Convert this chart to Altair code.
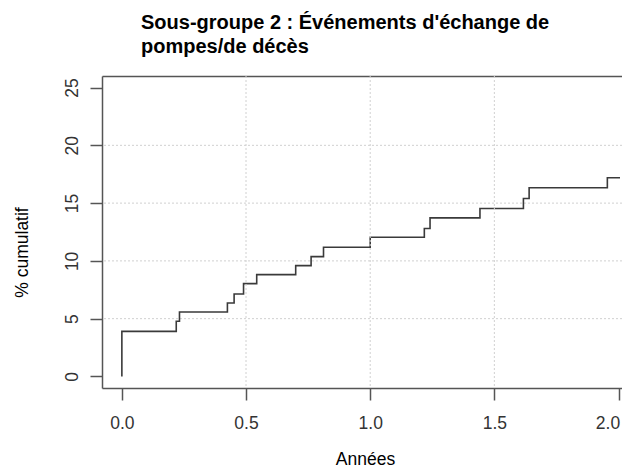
import altair as alt
import pandas as pd

# ---- data ----
title_lines = ["Sous-groupe 2 : Événements d'échange de", "pompes/de décès"]
x_title = "Années"
y_title = "% cumulatif"

times = [0.0, 0.0, 0.219, 0.232, 0.425, 0.452, 0.490, 0.543, 0.700, 0.762,
         0.812, 1.000, 1.218, 1.241, 1.442, 1.617, 1.640, 1.955, 2.006]
cum_pct = [0.0, 3.90, 4.77, 5.58, 6.36, 7.14, 8.03, 8.81, 9.59, 10.37,
           11.18, 12.05, 12.80, 13.72, 14.53, 15.40, 16.33, 17.19, 17.19]

x_ticks = [0.0, 0.5, 1.0, 1.5, 2.0]
y_ticks = [0, 5, 10, 15, 20, 25]
x_grid = [0.5, 1.0, 1.5]
y_grid = [5, 10, 15, 20]
x_domain = [-0.08, 2.014]
y_domain = [-1, 26]

FONT = "Liberation Sans"
FRAME = "#555555"

step_df = pd.DataFrame({"t": times, "pct": cum_pct, "i": list(range(len(times)))})
gx_df = pd.DataFrame({"t": x_grid})
gy_df = pd.DataFrame({"pct": y_grid})

xs = alt.Scale(domain=x_domain, nice=False, zero=False)
ys = alt.Scale(domain=y_domain, nice=False, zero=False)

x_axis = alt.Axis(
    orient="bottom",
    values=x_ticks, format=".1f", grid=False,
    domain=True, domainColor=FRAME, domainWidth=1.5,
    ticks=True, tickSize=12, tickColor=FRAME, tickWidth=1.5,
    labelFont=FONT, labelFontSize=17.5, labelColor="#333333",
    labelPadding=14, labelFlush=False, labelOverlap=False,
    labelOffset={"condition": {"test": "datum.value >= 2", "value": -11}, "value": 0},
    title=x_title, titleFont=FONT, titleFontSize=17.5, titleFontWeight="normal",
    titleColor="#000000", titleX=263, titleY=76, titleAlign="center",
    titleBaseline="alphabetic",
)
x_axis_top = alt.Axis(
    orient="top", grid=False, labels=False, ticks=False,
    domain=True, domainColor=FRAME, domainWidth=1.5, title=None,
)
y_axis = alt.Axis(
    values=y_ticks, format="d", grid=False,
    domain=True, domainColor=FRAME, domainWidth=1.5,
    ticks=True, tickSize=12, tickColor=FRAME, tickWidth=1.5,
    labelFont=FONT, labelFontSize=17.5, labelColor="#333333",
    labelAngle=270, labelAlign="center", labelBaseline="alphabetic",
    labelPadding=13, labelFlush=False, labelOverlap=False,
    title=y_title, titleFont=FONT, titleFontSize=17.5, titleFontWeight="normal",
    titleColor="#000000", titleAngle=270, titleX=-75, titleY=176,
    titleAlign="center", titleBaseline="alphabetic",
)

line = alt.Chart(step_df).mark_line(
    interpolate="step-after", color="#3a3a3a", strokeWidth=1.6
).encode(
    x=alt.X("t:Q", scale=xs, axis=x_axis),
    y=alt.Y("pct:Q", scale=ys, axis=y_axis),
    order=alt.Order("i:Q"),
)
grid_x = alt.Chart(gx_df).mark_rule(color="#d0d0d0", strokeDash=[2, 2], strokeWidth=1).encode(
    x=alt.X("t:Q", scale=xs, axis=x_axis_top)
)
grid_y = alt.Chart(gy_df).mark_rule(color="#d0d0d0", strokeDash=[2, 2], strokeWidth=1).encode(
    y=alt.Y("pct:Q", scale=ys, axis=y_axis)
)

chart = alt.layer(grid_y, line, grid_x).resolve_axis(x="independent").properties(
    width=520,
    height=312,
    autosize=alt.AutoSizeParams(type="none"),
    padding={"left": 94, "top": 68, "right": 0, "bottom": 80},
    title=alt.TitleParams(
        text=title_lines, anchor="start", frame="group", dx=39, offset=19,
        font=FONT, fontSize=20, fontWeight="bold", color="#000000", lineHeight=24,
    ),
).configure_view(stroke="transparent")

chart.save("out.html", embed_options={"renderer": "svg", "actions": False})
